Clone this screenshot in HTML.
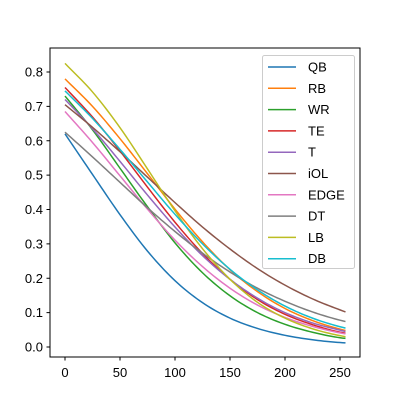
<!DOCTYPE html>
<html><head><meta charset="utf-8"><style>
body{margin:0;background:#fff}
svg{font-family:"Liberation Sans","DejaVu Sans",sans-serif}
</style></head><body>
<svg id="chart" width="400" height="400" viewBox="0 0 400 400">
<rect x="0" y="0" width="400" height="400" fill="#fff"/>
<g id="series"></g>
<rect x="50" y="48" width="310" height="309" fill="none" stroke="#000" stroke-width="1"/>
<g id="ticks"></g>
<g id="legend"></g>
</svg>
<script>
const xs = [0,25,50,75,100,125,150,175,200,225,250,255];
const names = ["QB","RB","WR","TE","T","iOL","EDGE","DT","LB","DB"];
const colors = ["#1f77b4","#ff7f0e","#2ca02c","#d62728","#9467bd","#8c564b","#e377c2","#7f7f7f","#bcbd22","#17becf"];
const sQB = [0.620,0.502,0.385,0.279,0.193,0.129,0.084,0.054,0.034,0.021,0.013,0.012];
const sRB = [0.780,0.700,0.606,0.504,0.401,0.306,0.225,0.161,0.112,0.077,0.052,0.048];
const sWR = [0.730,0.632,0.520,0.408,0.303,0.216,0.149,0.100,0.066,0.043,0.027,0.025];
const sTE = [0.755,0.669,0.570,0.465,0.363,0.272,0.197,0.138,0.095,0.065,0.043,0.040];
const sT = [0.720,0.635,0.540,0.442,0.349,0.266,0.197,0.142,0.100,0.070,0.049,0.045];
const siOL = [0.705,0.639,0.568,0.494,0.420,0.349,0.285,0.228,0.180,0.140,0.108,0.102];
const sEDGE = [0.685,0.595,0.498,0.401,0.311,0.234,0.171,0.122,0.086,0.060,0.041,0.038];
const sDT = [0.625,0.553,0.479,0.405,0.336,0.273,0.218,0.171,0.133,0.102,0.078,0.074];
const sLB = [0.825,0.742,0.638,0.518,0.396,0.286,0.197,0.130,0.084,0.053,0.033,0.030];
const sDB = [0.745,0.665,0.575,0.480,0.386,0.300,0.226,0.166,0.119,0.084,0.059,0.055];
const series = [sQB,sRB,sWR,sTE,sT,siOL,sEDGE,sDT,sLB,sDB];
const xTicks = [0,50,100,150,200,250];
const yTicks = [0.0,0.1,0.2,0.3,0.4,0.5,0.6,0.7,0.8];

const NS="http://www.w3.org/2000/svg";
function X(v){return 65+1.1*v;}
function Y(v){return 347-343.75*v;}
function mk(t,a){const e=document.createElementNS(NS,t);for(const k in a)e.setAttribute(k,a[k]);return e;}

function interp(xa,ya,x){
  const n=xa.length;const d=[],m=[];
  for(let i=0;i<n-1;i++)d.push((ya[i+1]-ya[i])/(xa[i+1]-xa[i]));
  m[0]=d[0];m[n-1]=d[n-2];
  for(let i=1;i<n-1;i++)m[i]=(d[i-1]*d[i]<=0)?0:(d[i-1]*(xa[i+1]-xa[i])+d[i]*(xa[i]-xa[i-1]))/(xa[i+1]-xa[i-1]);
  let i=0;while(i<n-2&&x>xa[i+1])i++;
  const h=xa[i+1]-xa[i],t=(x-xa[i])/h;
  const h00=2*t*t*t-3*t*t+1,h10=t*t*t-2*t*t+t,h01=-2*t*t*t+3*t*t,h11=t*t*t-t*t;
  return h00*ya[i]+h10*h*m[i]+h01*ya[i+1]+h11*h*m[i+1];
}
const sg=document.getElementById('series');
series.forEach((s,k)=>{
  let d="";
  for(let x=0;x<=255;x+=2.5){const xx=Math.min(x,255);const v=interp(xs,s,xx);d+=(x?"L":"M")+X(xx).toFixed(2)+","+Y(v).toFixed(2);}
  const p=mk('path',{d:d,fill:'none',stroke:colors[k],'stroke-width':1.5});
  
  
  sg.appendChild(p);
});
const tg=document.getElementById('ticks');
xTicks.forEach(v=>{
  const l=mk('line',{x1:X(v),x2:X(v),y1:357,y2:360.5,stroke:'#000'});
  
  
  tg.appendChild(l);
  const t=mk('text',{x:X(v),y:377,'font-size':13,'text-anchor':'middle'});
  t.textContent=v;
  
  
  tg.appendChild(t);
});
yTicks.forEach(v=>{
  const l=mk('line',{x1:46.5,x2:50,y1:Y(v),y2:Y(v),stroke:'#000'});
  
  
  tg.appendChild(l);
  const t=mk('text',{x:43,y:Y(v)+4.5,'font-size':13,'text-anchor':'end'});
  t.textContent=v.toFixed(1);
  
  
  tg.appendChild(t);
});
const lg=document.getElementById('legend');
const box=mk('rect',{x:262.5,y:55.5,width:92,height:213,rx:2,fill:'#fff','fill-opacity':0.8,stroke:'#ccc'});


lg.appendChild(box);
names.forEach((n,k)=>{
  const y=67+k*21.3;
  const l=mk('line',{x1:268,x2:296,y1:y,y2:y,stroke:colors[k],'stroke-width':1.5});
  
  
  lg.appendChild(l);
  const t=mk('text',{x:308,y:y+4.5,'font-size':13});
  t.textContent=n;
  
  
  lg.appendChild(t);
});
</script>
</body></html>
